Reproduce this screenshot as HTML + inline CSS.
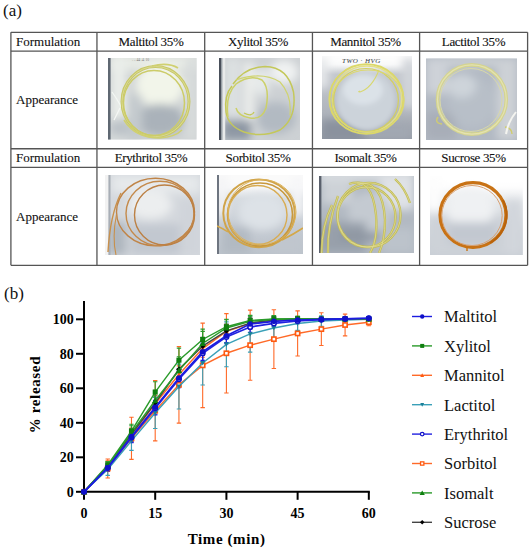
<!DOCTYPE html>
<html><head><meta charset="utf-8">
<style>
html,body{margin:0;padding:0;background:#fff;}
body{width:531px;height:550px;position:relative;overflow:hidden;font-family:"Liberation Serif",serif;color:#111;}
.lbl{position:absolute;font-size:17px;line-height:1;}
.hl{position:absolute;background:#5a5a5a;height:1px;}
.vl{position:absolute;background:#5a5a5a;width:1px;}
.cell{position:absolute;font-size:13px;line-height:1;white-space:nowrap;-webkit-text-stroke:0.12px #111;}
.c{text-align:center;letter-spacing:-0.35px;}
svg text{font-family:"Liberation Serif",serif;}
.tk{font-size:14px;font-weight:bold;fill:#000;}
.lg{font-size:16.5px;fill:#111;}
.ax{font-size:15px;font-weight:bold;fill:#000;}
</style></head><body>
<div class="lbl" style="left:3px;top:2.1px;">(a)</div>
<div class="lbl" style="left:4px;top:284.5px;">(b)</div>
<!-- table lines -->
<svg width="531" height="550" style="position:absolute;left:0;top:0;">
<g stroke="#555" stroke-width="1.3" fill="none">
<path d="M10.9,32.3H527.6M10.9,51.1H527.6M10.9,148.75H527.6M10.9,167.45H527.6M10.9,265.3H527.6"/>
<path d="M10.9,32.3V265.3M96.95,32.3V265.3M204.7,32.3V265.3M312.45,32.3V265.3M419.6,32.3V265.3M527.6,32.3V265.3"/>
</g>
</svg>
<!-- cell text -->
<div class="cell" style="left:16px;top:34.7px;">Formulation</div>
<div class="cell" style="left:16px;top:93.3px;">Appearance</div>
<div class="cell" style="left:16px;top:151.2px;">Formulation</div>
<div class="cell" style="left:16px;top:210px;">Appearance</div>
<div class="cell c" style="left:97px;width:108px;top:34.7px;">Maltitol 35%</div>
<div class="cell c" style="left:204px;width:108px;top:34.7px;">Xylitol 35%</div>
<div class="cell c" style="left:312px;width:107px;top:34.7px;">Mannitol 35%</div>
<div class="cell c" style="left:419px;width:109px;top:34.7px;">Lactitol 35%</div>
<div class="cell c" style="left:97px;width:108px;top:151.2px;">Erythritol 35%</div>
<div class="cell c" style="left:204px;width:108px;top:151.2px;">Sorbitol 35%</div>
<div class="cell c" style="left:312px;width:107px;top:151.2px;">Isomalt 35%</div>
<div class="cell c" style="left:419px;width:109px;top:151.2px;">Sucrose 35%</div>
<svg width="531" height="550" viewBox="0 0 531 550" style="position:absolute;left:0;top:0;">
<defs>
<filter id="b1" x="-30%" y="-30%" width="160%" height="160%"><feGaussianBlur stdDeviation="2.5"/></filter>
<filter id="b3" x="-30%" y="-30%" width="160%" height="160%"><feGaussianBlur stdDeviation="4.5"/></filter>
<filter id="b05" x="-5%" y="-5%" width="110%" height="110%"><feGaussianBlur stdDeviation="0.45"/></filter>
<filter id="b08" x="-5%" y="-5%" width="110%" height="110%"><feGaussianBlur stdDeviation="0.8"/></filter>
<clipPath id="c1"><rect x="108" y="58" width="88.5" height="81.5"/></clipPath>
<clipPath id="c2"><rect x="219" y="58" width="81" height="82"/></clipPath>
<clipPath id="c3"><rect x="322" y="56" width="90" height="83"/></clipPath>
<clipPath id="c4"><rect x="426" y="58.5" width="91" height="81.5"/></clipPath>
<clipPath id="c5"><rect x="105" y="175" width="95" height="80"/></clipPath>
<clipPath id="c6"><rect x="217" y="175" width="86" height="79"/></clipPath>
<clipPath id="c7"><rect x="319" y="176" width="95" height="77"/></clipPath>
<clipPath id="c8"><rect x="430" y="176" width="92.8" height="79"/></clipPath>
<linearGradient id="g6" x1="0" y1="175" x2="0" y2="254" gradientUnits="userSpaceOnUse">
<stop offset="0" stop-color="#fbfbfb"/><stop offset="0.16" stop-color="#f6f7f8"/><stop offset="0.3" stop-color="#d6dbe0"/><stop offset="0.7" stop-color="#c4cad2"/><stop offset="1" stop-color="#bcc3cb"/></linearGradient>
<linearGradient id="g8" x1="0" y1="176" x2="0" y2="254" gradientUnits="userSpaceOnUse">
<stop offset="0" stop-color="#ffffff"/><stop offset="0.14" stop-color="#fbfbfc"/><stop offset="0.35" stop-color="#e4e7ea"/><stop offset="0.7" stop-color="#d0d5db"/><stop offset="1" stop-color="#c8ced5"/></linearGradient>
<linearGradient id="g3" x1="0" y1="56" x2="0" y2="139" gradientUnits="userSpaceOnUse">
<stop offset="0" stop-color="#fdfdfd"/><stop offset="0.1" stop-color="#f4f5f6"/><stop offset="0.22" stop-color="#c4c8ce"/><stop offset="0.7" stop-color="#aeb3bb"/><stop offset="1" stop-color="#969ca6"/></linearGradient>
</defs>
<!-- Photo 1 Maltitol -->
<g clip-path="url(#c1)">
<rect x="108" y="58" width="89" height="82" fill="#d0d4d5"/>
<rect x="112" y="56" width="85" height="14" fill="#e8ece6" filter="url(#b3)"/>
<g filter="url(#b3)">
<rect x="112" y="58" width="14" height="82" fill="#eaeeea"/>
<ellipse cx="160" cy="85" rx="24" ry="22" fill="#f2f5ea"/>
<ellipse cx="160" cy="120" rx="24" ry="16" fill="#aab2ba"/>
<rect x="128" y="95" width="14" height="45" fill="#c4cace"/>
<rect x="186" y="58" width="11" height="82" fill="#d8dcdc"/>
<ellipse cx="120" cy="128" rx="10" ry="10" fill="#bcc2c8"/>
</g>
<rect x="108" y="58" width="2.6" height="82" fill="#5e6872" filter="url(#b05)"/>
<path d="M112,92 Q118,100 125,114 M114,120 L120,108" stroke="#f4f8f4" stroke-width="1.2" fill="none" filter="url(#b05)"/>
<text x="132" y="61" font-size="3.6" fill="#777" font-family="Liberation Sans">. .. 44 .4. 10</text>
<g fill="none" filter="url(#b05)">
<ellipse cx="155.5" cy="101.5" rx="33.5" ry="35" stroke="#c8c868" stroke-width="3"/>
<ellipse cx="155.5" cy="101.5" rx="33.5" ry="35" stroke="#dcdc96" stroke-width="0.9"/>
<ellipse cx="154" cy="103" rx="30.5" ry="32.5" stroke="#cccc68" stroke-width="1.5"/>
<path d="M152,66 Q168,62 178,68" stroke="#d0d070" stroke-width="1.8"/>
<path d="M124,120 Q135,138 160,138 Q175,137 182,130" stroke="#d0d070" stroke-width="1.6"/>
</g>
</g>
<!-- Photo 2 Xylitol -->
<g clip-path="url(#c2)">
<rect x="219" y="58" width="81" height="82" fill="#cdd1d4"/>
<g filter="url(#b3)">
<rect x="226" y="58" width="14" height="60" fill="#dde1e2"/>
<rect x="244" y="62" width="10" height="78" fill="#eceeec"/>
<ellipse cx="284" cy="72" rx="14" ry="12" fill="#f0f2f2"/>
<ellipse cx="276" cy="118" rx="20" ry="16" fill="#b2bac2"/>
<rect x="222" y="120" width="30" height="20" fill="#8e98a4"/>
<ellipse cx="262" cy="82" rx="8" ry="14" fill="#e6eaea"/>
</g>
<rect x="219" y="58" width="2" height="82" fill="#48505a" filter="url(#b05)"/>
<rect x="221" y="58" width="1.6" height="82" fill="#98a0a6" filter="url(#b05)"/>
<rect x="222.6" y="58" width="2.6" height="82" fill="#e8eaea" filter="url(#b05)"/>
<g fill="none" stroke="#c4c85a" stroke-width="1.5" filter="url(#b05)">
<path d="M233,84 Q245,67 265,66.5 Q288,67 293.5,92 Q297,118 280,130 Q262,138 244,132 Q228,126 226,112"/>
<path d="M228,117 Q225,95 236,84 Q250,74 262,80 Q270,88 266,108 Q262,120 250,118 Q238,116 236,108" stroke="#ccd068"/>
<path d="M226,112 Q224,95 232,86" stroke="#c4c858"/>
<path d="M236,80 Q262,71 280,82 Q292,95 290,115" stroke="#d0d470" stroke-width="1.2"/>
<path d="M244,113 Q252,117 254,112" stroke-width="1.3"/>
</g>
</g>
<!-- Photo 3 Mannitol -->
<g clip-path="url(#c3)">
<rect x="322" y="56" width="90" height="83" fill="url(#g3)"/>
<g filter="url(#b3)">
<rect x="316" y="48" width="102" height="16" fill="#fdfdfd"/>
<rect x="316" y="58" width="12" height="30" fill="#e6e8ea"/>
<rect x="402" y="58" width="14" height="50" fill="#d2d5da"/>
<rect x="322" y="120" width="40" height="22" fill="#8a929e"/>
<rect x="368" y="126" width="44" height="14" fill="#a2a8b2"/>
</g>
<g filter="url(#b1)">
<ellipse cx="366" cy="101" rx="30" ry="30" fill="#ccd3da"/>
<ellipse cx="363" cy="90" rx="20" ry="15" fill="#dbe2e8"/>
</g>
<text x="342" y="62.5" font-size="7" fill="#33373c" font-family="Liberation Sans" font-style="italic" letter-spacing="0.5">TWO    ·   HVG</text>
<g fill="none" filter="url(#b05)">
<ellipse cx="366.4" cy="99" rx="37" ry="34.8" stroke="#dcd868" stroke-width="2"/>
<ellipse cx="367" cy="99" rx="34.6" ry="33" stroke="#e4e088" stroke-width="1.4"/>
<ellipse cx="366" cy="100" rx="32.4" ry="31.5" stroke="#d4d060" stroke-width="1.2"/>
<ellipse cx="368" cy="101" rx="36" ry="31" stroke="#dcd870" stroke-width="1.2"/>
<path d="M379,70 Q372,88 360,92 Q357,92 360,91" stroke="#d8d870" stroke-width="1.1"/>
</g>
</g>
<!-- Photo 4 Lactitol -->
<g clip-path="url(#c4)">
<rect x="426" y="58" width="91" height="82" fill="#b2b9c3"/>
<g filter="url(#b3)">
<rect x="426" y="58" width="91" height="8" fill="#d0d4d8"/>
<rect x="426" y="58" width="22" height="36" fill="#ced2d8"/>
<rect x="497" y="58" width="20" height="82" fill="#cdd1d6"/>
<rect x="426" y="112" width="30" height="28" fill="#a8aeb8"/>
<ellipse cx="472" cy="102" rx="24" ry="26" fill="#b8bfc8"/>
<ellipse cx="462" cy="86" rx="14" ry="12" fill="#ced4da"/>
</g>
<g fill="none" filter="url(#b05)">
<ellipse cx="471.9" cy="99.5" rx="34.4" ry="34.6" stroke="#d4d490" stroke-width="3.6"/>
<ellipse cx="471.9" cy="99.5" rx="34.4" ry="34.6" stroke="#e4e2b0" stroke-width="1.2"/>
<ellipse cx="471" cy="100" rx="31" ry="31.5" stroke="#d8d8a8" stroke-width="1"/>
<path d="M438,117 Q434,123 442,124" stroke="#d0cc70" stroke-width="1.4"/>
<path d="M505,127 Q512,128 512,134" stroke="#d0cc70" stroke-width="1.4"/>
<path d="M516,112 Q508,122 506,134" stroke="#f4f4f0" stroke-width="2"/>
</g>
</g>
<!-- Photo 5 Erythritol -->
<g clip-path="url(#c5)">
<rect x="105" y="175" width="95" height="80" fill="#d4d8dd"/>
<g filter="url(#b3)">
<rect x="112" y="175" width="88" height="18" fill="#e6e9eb"/>
<ellipse cx="150" cy="205" rx="22" ry="14" fill="#eceeef"/>
<rect x="130" y="224" width="50" height="31" fill="#c2c8d0"/>
<rect x="108" y="222" width="18" height="33" fill="#aeb6be"/>
<rect x="180" y="200" width="20" height="55" fill="#d0d4da"/>
</g>
<rect x="105" y="175" width="3.5" height="80" fill="#f2f2f2" filter="url(#b05)"/>
<rect x="108.5" y="175" width="2" height="80" fill="#a8aeb6" filter="url(#b05)"/>
<g fill="none" filter="url(#b05)" stroke-width="1.4">
<ellipse cx="155.5" cy="212" rx="39" ry="33.8" stroke="#c08446"/>
<ellipse cx="160" cy="213.5" rx="34" ry="32.3" stroke="#c48a4c"/>
<ellipse cx="164.5" cy="215" rx="30" ry="30" stroke="#bc8044"/>
<path d="M121,193 Q110,215 108,252" stroke="#c8904c"/>
<path d="M116.5,214 Q112,238 116,255" stroke="#c8904c" stroke-width="1.1"/>
</g>
</g>
<!-- Photo 6 Sorbitol -->
<g clip-path="url(#c6)">
<rect x="217" y="175" width="86" height="79" fill="url(#g6)"/>
<g filter="url(#b3)">
<rect x="217" y="168" width="92" height="14" fill="#fafafa"/>
<rect x="217" y="175" width="10" height="40" fill="#f4f4f6"/>
<rect x="292" y="175" width="11" height="40" fill="#f6f6f8"/>
<ellipse cx="262" cy="212" rx="24" ry="18" fill="#dde2e7"/>
<rect x="222" y="228" width="28" height="26" fill="#b2bac2"/>
<rect x="270" y="236" width="33" height="18" fill="#c0c6ce"/>
</g>
<rect x="217" y="175" width="2" height="79" fill="#6e7480" filter="url(#b05)"/>
<g fill="none" filter="url(#b05)">
<ellipse cx="259" cy="213.3" rx="35.7" ry="33.9" stroke="#d0a44a" stroke-width="2"/>
<ellipse cx="260" cy="214.5" rx="32.5" ry="31.5" stroke="#c8983c" stroke-width="1.6"/>
<ellipse cx="257.5" cy="215" rx="29.5" ry="29.5" stroke="#d8ac52" stroke-width="1.4"/>
<ellipse cx="262" cy="212" rx="34" ry="32.5" stroke="#dcb25a" stroke-width="1"/>
<path d="M282,240 Q294,234 303,228" stroke="#d4a848" stroke-width="1.6"/>
<path d="M228,232 Q222,228 217,226" stroke="#d4a848" stroke-width="1.4"/>
</g>
</g>
<!-- Photo 7 Isomalt -->
<g clip-path="url(#c7)">
<rect x="319" y="176" width="95" height="77" fill="#b2b9c2"/>
<g filter="url(#b3)">
<rect x="319" y="170" width="95" height="12" fill="#d8dce0"/>
<rect x="380" y="176" width="34" height="34" fill="#dfe2e6"/>
<rect x="322" y="180" width="30" height="24" fill="#cdd2d7"/>
<ellipse cx="370" cy="212" rx="22" ry="20" fill="#c4cad1"/>
<rect x="320" y="222" width="46" height="31" fill="#98a0ab"/>
<rect x="340" y="232" width="40" height="8" fill="#8c94a0"/>
<rect x="382" y="228" width="32" height="25" fill="#bcc3cb"/>
</g>
<rect x="319" y="176" width="2.4" height="77" fill="#5a606c" filter="url(#b05)"/>
<g fill="none" filter="url(#b05)" stroke="#c2bc56" stroke-width="2.3">
<ellipse cx="369" cy="215" rx="31.6" ry="32.2"/>
<ellipse cx="366.5" cy="217" rx="29" ry="30"/>
<path d="M349,184 Q372,176 376,215 Q378,240 370,253"/>
<path d="M357,183 Q383,180 385,220 Q385,240 379,253"/>
<path d="M332,205 Q322,225 321.5,253"/>
<path d="M338,196 Q327,225 328,253"/>
<path d="M395,179 Q405,188 410,203"/>
</g>
<g fill="none" filter="url(#b05)" stroke="#e2de9c" stroke-width="0.7">
<ellipse cx="369" cy="215" rx="31.6" ry="32.2"/>
<ellipse cx="366.5" cy="217" rx="29" ry="30"/>
<path d="M349,184 Q372,176 376,215 Q378,240 370,253"/>
<path d="M357,183 Q383,180 385,220 Q385,240 379,253"/>
<path d="M332,205 Q322,225 321.5,253"/>
<path d="M338,196 Q327,225 328,253"/>
<path d="M395,179 Q405,188 410,203"/>
</g>
</g>
<!-- Photo 8 Sucrose -->
<g clip-path="url(#c8)">
<rect x="430" y="176" width="93" height="79" fill="url(#g8)"/>
<g filter="url(#b3)">
<rect x="426" y="168" width="100" height="18" fill="#ffffff"/>
<rect x="426" y="176" width="16" height="35" fill="#fdfdfd"/>
<rect x="430" y="216" width="92" height="40" fill="#cdd2d8"/>
<rect x="505" y="200" width="17" height="54" fill="#d2d6dc"/>
<ellipse cx="470" cy="208" rx="24" ry="22" fill="#eff1f3"/>
<rect x="448" y="222" width="48" height="22" fill="#c2c8d0"/>
</g>
<g fill="none" filter="url(#b05)">
<ellipse cx="473" cy="215" rx="33" ry="32.4" stroke="#c87212" stroke-width="3.2"/>
<path d="M503,200 A33,32.4 0 0 1 490,243" stroke="#b8620a" stroke-width="2"/>
<ellipse cx="472" cy="215.5" rx="30.2" ry="30" stroke="#d8a070" stroke-width="1"/>
<path d="M467,247 L467,251" stroke="#c87212" stroke-width="1.4"/>
</g>
</g>

<path d="M84.00,301V492.70M83.00,491.80H369.82" stroke="#000" stroke-width="2" fill="none"/>
<path d="M76.00,491.80H84.0" stroke="#000" stroke-width="2"/>
<text x="73.80" y="496.80" text-anchor="end" class="tk">0</text>
<path d="M76.00,457.30H84.0" stroke="#000" stroke-width="2"/>
<text x="73.80" y="462.30" text-anchor="end" class="tk">20</text>
<path d="M76.00,422.80H84.0" stroke="#000" stroke-width="2"/>
<text x="73.80" y="427.80" text-anchor="end" class="tk">40</text>
<path d="M76.00,388.30H84.0" stroke="#000" stroke-width="2"/>
<text x="73.80" y="393.30" text-anchor="end" class="tk">60</text>
<path d="M76.00,353.80H84.0" stroke="#000" stroke-width="2"/>
<text x="73.80" y="358.80" text-anchor="end" class="tk">80</text>
<path d="M76.00,319.30H84.0" stroke="#000" stroke-width="2"/>
<text x="73.80" y="324.30" text-anchor="end" class="tk">100</text>
<path d="M84.00,491.8V499.8" stroke="#000" stroke-width="2"/>
<text x="84.00" y="517.70" text-anchor="middle" class="tk">0</text>
<path d="M155.20,491.8V499.8" stroke="#000" stroke-width="2"/>
<text x="155.20" y="517.70" text-anchor="middle" class="tk">15</text>
<path d="M226.41,491.8V499.8" stroke="#000" stroke-width="2"/>
<text x="226.41" y="517.70" text-anchor="middle" class="tk">30</text>
<path d="M297.62,491.8V499.8" stroke="#000" stroke-width="2"/>
<text x="297.62" y="517.70" text-anchor="middle" class="tk">45</text>
<path d="M368.82,491.8V499.8" stroke="#000" stroke-width="2"/>
<text x="368.82" y="517.70" text-anchor="middle" class="tk">60</text>
<path d="M107.73,459.03V478.00M105.53,459.03h4.4M105.53,478.00h4.4" stroke="#ff6a28" stroke-width="1.1" fill="none"/>
<path d="M131.47,417.28V459.37M129.27,417.28h4.4M129.27,459.37h4.4" stroke="#ff6a28" stroke-width="1.1" fill="none"/>
<path d="M155.20,380.54V440.91M153.00,380.54h4.4M153.00,440.91h4.4" stroke="#ff6a28" stroke-width="1.1" fill="none"/>
<path d="M178.94,346.56V423.14M176.74,346.56h4.4M176.74,423.14h4.4" stroke="#ff6a28" stroke-width="1.1" fill="none"/>
<path d="M202.68,323.10V407.62M200.48,323.10h4.4M200.48,407.62h4.4" stroke="#ff6a28" stroke-width="1.1" fill="none"/>
<path d="M226.41,313.61V392.96M224.21,313.61h4.4M224.21,392.96h4.4" stroke="#ff6a28" stroke-width="1.1" fill="none"/>
<path d="M250.14,310.16V380.19M247.94,310.16h4.4M247.94,380.19h4.4" stroke="#ff6a28" stroke-width="1.1" fill="none"/>
<path d="M273.88,309.81V368.46M271.68,309.81h4.4M271.68,368.46h4.4" stroke="#ff6a28" stroke-width="1.1" fill="none"/>
<path d="M297.62,310.85V356.04M295.42,310.85h4.4M295.42,356.04h4.4" stroke="#ff6a28" stroke-width="1.1" fill="none"/>
<path d="M321.35,312.75V345.52M319.15,312.75h4.4M319.15,345.52h4.4" stroke="#ff6a28" stroke-width="1.1" fill="none"/>
<path d="M345.08,314.12V335.86M342.88,314.12h4.4M342.88,335.86h4.4" stroke="#ff6a28" stroke-width="1.1" fill="none"/>
<path d="M368.82,318.78V325.68M366.62,318.78h4.4M366.62,325.68h4.4" stroke="#ff6a28" stroke-width="1.1" fill="none"/>
<path d="M107.73,463.34V475.41M105.53,463.34h4.4M105.53,475.41h4.4" stroke="#3aa0b8" stroke-width="1.1" fill="none"/>
<path d="M131.47,431.43V450.40M129.27,431.43h4.4M129.27,450.40h4.4" stroke="#3aa0b8" stroke-width="1.1" fill="none"/>
<path d="M155.20,397.44V428.49M153.00,397.44h4.4M153.00,428.49h4.4" stroke="#3aa0b8" stroke-width="1.1" fill="none"/>
<path d="M178.94,364.15V409.00M176.74,364.15h4.4M176.74,409.00h4.4" stroke="#3aa0b8" stroke-width="1.1" fill="none"/>
<path d="M202.68,340.86V385.02M200.48,340.86h4.4M200.48,385.02h4.4" stroke="#3aa0b8" stroke-width="1.1" fill="none"/>
<path d="M226.41,321.89V366.74M224.21,321.89h4.4M224.21,366.74h4.4" stroke="#3aa0b8" stroke-width="1.1" fill="none"/>
<path d="M250.14,315.85V352.08M247.94,315.85h4.4M247.94,352.08h4.4" stroke="#3aa0b8" stroke-width="1.1" fill="none"/>
<path d="M273.88,315.85V340.00M271.68,315.85h4.4M271.68,340.00h4.4" stroke="#3aa0b8" stroke-width="1.1" fill="none"/>
<path d="M297.62,316.54V330.34M295.42,316.54h4.4M295.42,330.34h4.4" stroke="#3aa0b8" stroke-width="1.1" fill="none"/>
<path d="M321.35,315.85V326.20M319.15,315.85h4.4M319.15,326.20h4.4" stroke="#3aa0b8" stroke-width="1.1" fill="none"/>
<path d="M345.08,316.54V323.44M342.88,316.54h4.4M342.88,323.44h4.4" stroke="#3aa0b8" stroke-width="1.1" fill="none"/>
<path d="M368.82,317.57V321.02M366.62,317.57h4.4M366.62,321.02h4.4" stroke="#3aa0b8" stroke-width="1.1" fill="none"/>
<path d="M107.73,460.75V471.10M105.53,460.75h4.4M105.53,471.10h4.4" stroke="#ff6a28" stroke-width="1.1" fill="none"/>
<path d="M131.47,427.98V441.77M129.27,427.98h4.4M129.27,441.77h4.4" stroke="#ff6a28" stroke-width="1.1" fill="none"/>
<path d="M155.20,395.20V412.45M153.00,395.20h4.4M153.00,412.45h4.4" stroke="#ff6a28" stroke-width="1.1" fill="none"/>
<path d="M178.94,365.88V383.12M176.74,365.88h4.4M176.74,383.12h4.4" stroke="#ff6a28" stroke-width="1.1" fill="none"/>
<path d="M202.68,340.00V357.25M200.48,340.00h4.4M200.48,357.25h4.4" stroke="#ff6a28" stroke-width="1.1" fill="none"/>
<path d="M226.41,324.48V338.27M224.21,324.48h4.4M224.21,338.27h4.4" stroke="#ff6a28" stroke-width="1.1" fill="none"/>
<path d="M250.14,318.44V328.79M247.94,318.44h4.4M247.94,328.79h4.4" stroke="#ff6a28" stroke-width="1.1" fill="none"/>
<path d="M273.88,316.71V323.61M271.68,316.71h4.4M271.68,323.61h4.4" stroke="#ff6a28" stroke-width="1.1" fill="none"/>
<path d="M297.62,316.71V321.89M295.42,316.71h4.4M295.42,321.89h4.4" stroke="#ff6a28" stroke-width="1.1" fill="none"/>
<path d="M321.35,317.57V321.02M319.15,317.57h4.4M319.15,321.02h4.4" stroke="#ff6a28" stroke-width="1.1" fill="none"/>
<path d="M345.08,317.23V320.68M342.88,317.23h4.4M342.88,320.68h4.4" stroke="#ff6a28" stroke-width="1.1" fill="none"/>
<path d="M368.82,317.23V320.68M366.62,317.23h4.4M366.62,320.68h4.4" stroke="#ff6a28" stroke-width="1.1" fill="none"/>
<path d="M107.73,462.82V469.72M105.53,462.82h4.4M105.53,469.72h4.4" stroke="#444444" stroke-width="1.1" fill="none"/>
<path d="M131.47,428.84V439.19M129.27,428.84h4.4M129.27,439.19h4.4" stroke="#444444" stroke-width="1.1" fill="none"/>
<path d="M155.20,396.06V409.86M153.00,396.06h4.4M153.00,409.86h4.4" stroke="#444444" stroke-width="1.1" fill="none"/>
<path d="M178.94,360.70V377.95M176.74,360.70h4.4M176.74,377.95h4.4" stroke="#444444" stroke-width="1.1" fill="none"/>
<path d="M202.68,337.41V354.66M200.48,337.41h4.4M200.48,354.66h4.4" stroke="#444444" stroke-width="1.1" fill="none"/>
<path d="M226.41,323.96V337.76M224.21,323.96h4.4M224.21,337.76h4.4" stroke="#444444" stroke-width="1.1" fill="none"/>
<path d="M250.14,317.92V328.27M247.94,317.92h4.4M247.94,328.27h4.4" stroke="#444444" stroke-width="1.1" fill="none"/>
<path d="M273.88,316.54V323.44M271.68,316.54h4.4M271.68,323.44h4.4" stroke="#444444" stroke-width="1.1" fill="none"/>
<path d="M297.62,316.71V321.89M295.42,316.71h4.4M295.42,321.89h4.4" stroke="#444444" stroke-width="1.1" fill="none"/>
<path d="M321.35,317.40V320.85M319.15,317.40h4.4M319.15,320.85h4.4" stroke="#444444" stroke-width="1.1" fill="none"/>
<path d="M345.08,317.23V320.68M342.88,317.23h4.4M342.88,320.68h4.4" stroke="#444444" stroke-width="1.1" fill="none"/>
<path d="M368.82,317.06V320.51M366.62,317.06h4.4M366.62,320.51h4.4" stroke="#444444" stroke-width="1.1" fill="none"/>
<path d="M107.73,461.61V470.24M105.53,461.61h4.4M105.53,470.24h4.4" stroke="#2a9a2a" stroke-width="1.1" fill="none"/>
<path d="M131.47,425.73V439.53M129.27,425.73h4.4M129.27,439.53h4.4" stroke="#2a9a2a" stroke-width="1.1" fill="none"/>
<path d="M155.20,390.20V410.90M153.00,390.20h4.4M153.00,410.90h4.4" stroke="#2a9a2a" stroke-width="1.1" fill="none"/>
<path d="M178.94,356.73V384.33M176.74,356.73h4.4M176.74,384.33h4.4" stroke="#2a9a2a" stroke-width="1.1" fill="none"/>
<path d="M202.68,331.38V355.52M200.48,331.38h4.4M200.48,355.52h4.4" stroke="#2a9a2a" stroke-width="1.1" fill="none"/>
<path d="M226.41,319.30V336.55M224.21,319.30h4.4M224.21,336.55h4.4" stroke="#2a9a2a" stroke-width="1.1" fill="none"/>
<path d="M250.14,316.19V326.55M247.94,316.19h4.4M247.94,326.55h4.4" stroke="#2a9a2a" stroke-width="1.1" fill="none"/>
<path d="M273.88,315.85V322.75M271.68,315.85h4.4M271.68,322.75h4.4" stroke="#2a9a2a" stroke-width="1.1" fill="none"/>
<path d="M297.62,316.37V321.54M295.42,316.37h4.4M295.42,321.54h4.4" stroke="#2a9a2a" stroke-width="1.1" fill="none"/>
<path d="M321.35,317.23V320.68M319.15,317.23h4.4M319.15,320.68h4.4" stroke="#2a9a2a" stroke-width="1.1" fill="none"/>
<path d="M345.08,317.23V320.68M342.88,317.23h4.4M342.88,320.68h4.4" stroke="#2a9a2a" stroke-width="1.1" fill="none"/>
<path d="M368.82,317.23V320.68M366.62,317.23h4.4M366.62,320.68h4.4" stroke="#2a9a2a" stroke-width="1.1" fill="none"/>
<path d="M107.73,461.44V468.34M105.53,461.44h4.4M105.53,468.34h4.4" stroke="#2a9a2a" stroke-width="1.1" fill="none"/>
<path d="M131.47,424.18V437.98M129.27,424.18h4.4M129.27,437.98h4.4" stroke="#2a9a2a" stroke-width="1.1" fill="none"/>
<path d="M155.20,381.75V402.44M153.00,381.75h4.4M153.00,402.44h4.4" stroke="#2a9a2a" stroke-width="1.1" fill="none"/>
<path d="M178.94,348.11V372.26M176.74,348.11h4.4M176.74,372.26h4.4" stroke="#2a9a2a" stroke-width="1.1" fill="none"/>
<path d="M202.68,329.13V349.83M200.48,329.13h4.4M200.48,349.83h4.4" stroke="#2a9a2a" stroke-width="1.1" fill="none"/>
<path d="M226.41,319.82V333.62M224.21,319.82h4.4M224.21,333.62h4.4" stroke="#2a9a2a" stroke-width="1.1" fill="none"/>
<path d="M250.14,315.33V325.68M247.94,315.33h4.4M247.94,325.68h4.4" stroke="#2a9a2a" stroke-width="1.1" fill="none"/>
<path d="M273.88,315.50V322.40M271.68,315.50h4.4M271.68,322.40h4.4" stroke="#2a9a2a" stroke-width="1.1" fill="none"/>
<path d="M297.62,316.19V321.37M295.42,316.19h4.4M295.42,321.37h4.4" stroke="#2a9a2a" stroke-width="1.1" fill="none"/>
<path d="M321.35,317.23V320.68M319.15,317.23h4.4M319.15,320.68h4.4" stroke="#2a9a2a" stroke-width="1.1" fill="none"/>
<path d="M345.08,317.23V320.68M342.88,317.23h4.4M342.88,320.68h4.4" stroke="#2a9a2a" stroke-width="1.1" fill="none"/>
<path d="M368.82,317.23V320.68M366.62,317.23h4.4M366.62,320.68h4.4" stroke="#2a9a2a" stroke-width="1.1" fill="none"/>
<path d="M107.73,464.55V471.44M105.53,464.55h4.4M105.53,471.44h4.4" stroke="#2222e0" stroke-width="1.1" fill="none"/>
<path d="M131.47,432.29V442.64M129.27,432.29h4.4M129.27,442.64h4.4" stroke="#2222e0" stroke-width="1.1" fill="none"/>
<path d="M155.20,401.24V415.04M153.00,401.24h4.4M153.00,415.04h4.4" stroke="#2222e0" stroke-width="1.1" fill="none"/>
<path d="M178.94,370.53V387.78M176.74,370.53h4.4M176.74,387.78h4.4" stroke="#2222e0" stroke-width="1.1" fill="none"/>
<path d="M202.68,344.66V361.91M200.48,344.66h4.4M200.48,361.91h4.4" stroke="#2222e0" stroke-width="1.1" fill="none"/>
<path d="M226.41,330.00V343.80M224.21,330.00h4.4M224.21,343.80h4.4" stroke="#2222e0" stroke-width="1.1" fill="none"/>
<path d="M250.14,321.89V332.24M247.94,321.89h4.4M247.94,332.24h4.4" stroke="#2222e0" stroke-width="1.1" fill="none"/>
<path d="M273.88,319.99V326.89M271.68,319.99h4.4M271.68,326.89h4.4" stroke="#2222e0" stroke-width="1.1" fill="none"/>
<path d="M297.62,318.44V323.61M295.42,318.44h4.4M295.42,323.61h4.4" stroke="#2222e0" stroke-width="1.1" fill="none"/>
<path d="M321.35,317.92V321.37M319.15,317.92h4.4M319.15,321.37h4.4" stroke="#2222e0" stroke-width="1.1" fill="none"/>
<path d="M345.08,317.06V320.51M342.88,317.06h4.4M342.88,320.51h4.4" stroke="#2222e0" stroke-width="1.1" fill="none"/>
<path d="M368.82,316.54V319.99M366.62,316.54h4.4M366.62,319.99h4.4" stroke="#2222e0" stroke-width="1.1" fill="none"/>
<path d="M107.73,464.20V471.10M105.53,464.20h4.4M105.53,471.10h4.4" stroke="#1c1ce0" stroke-width="1.1" fill="none"/>
<path d="M131.47,431.43V441.77M129.27,431.43h4.4M129.27,441.77h4.4" stroke="#1c1ce0" stroke-width="1.1" fill="none"/>
<path d="M155.20,400.38V414.18M153.00,400.38h4.4M153.00,414.18h4.4" stroke="#1c1ce0" stroke-width="1.1" fill="none"/>
<path d="M178.94,369.32V386.57M176.74,369.32h4.4M176.74,386.57h4.4" stroke="#1c1ce0" stroke-width="1.1" fill="none"/>
<path d="M202.68,343.11V360.36M200.48,343.11h4.4M200.48,360.36h4.4" stroke="#1c1ce0" stroke-width="1.1" fill="none"/>
<path d="M226.41,328.79V342.59M224.21,328.79h4.4M224.21,342.59h4.4" stroke="#1c1ce0" stroke-width="1.1" fill="none"/>
<path d="M250.14,318.78V329.13M247.94,318.78h4.4M247.94,329.13h4.4" stroke="#1c1ce0" stroke-width="1.1" fill="none"/>
<path d="M273.88,317.92V324.82M271.68,317.92h4.4M271.68,324.82h4.4" stroke="#1c1ce0" stroke-width="1.1" fill="none"/>
<path d="M297.62,317.40V322.58M295.42,317.40h4.4M295.42,322.58h4.4" stroke="#1c1ce0" stroke-width="1.1" fill="none"/>
<path d="M321.35,317.57V321.02M319.15,317.57h4.4M319.15,321.02h4.4" stroke="#1c1ce0" stroke-width="1.1" fill="none"/>
<path d="M345.08,317.06V320.51M342.88,317.06h4.4M342.88,320.51h4.4" stroke="#1c1ce0" stroke-width="1.1" fill="none"/>
<path d="M368.82,316.54V319.99M366.62,316.54h4.4M366.62,319.99h4.4" stroke="#1c1ce0" stroke-width="1.1" fill="none"/>
<polyline points="84.00,491.80 107.73,468.51 131.47,438.32 155.20,410.73 178.94,384.85 202.68,365.36 226.41,353.28 250.14,345.18 273.88,339.14 297.62,333.45 321.35,329.13 345.08,324.99 368.82,322.23" stroke="#ff6a28" stroke-width="1.45" fill="none"/>
<rect x="81.90" y="489.70" width="4.20" height="4.20" fill="#fff" stroke="#ff5a10" stroke-width="1.62"/>
<rect x="105.64" y="466.41" width="4.20" height="4.20" fill="#fff" stroke="#ff5a10" stroke-width="1.62"/>
<rect x="129.37" y="436.22" width="4.20" height="4.20" fill="#fff" stroke="#ff5a10" stroke-width="1.62"/>
<rect x="153.10" y="408.62" width="4.20" height="4.20" fill="#fff" stroke="#ff5a10" stroke-width="1.62"/>
<rect x="176.84" y="382.75" width="4.20" height="4.20" fill="#fff" stroke="#ff5a10" stroke-width="1.62"/>
<rect x="200.58" y="363.26" width="4.20" height="4.20" fill="#fff" stroke="#ff5a10" stroke-width="1.62"/>
<rect x="224.31" y="351.18" width="4.20" height="4.20" fill="#fff" stroke="#ff5a10" stroke-width="1.62"/>
<rect x="248.04" y="343.07" width="4.20" height="4.20" fill="#fff" stroke="#ff5a10" stroke-width="1.62"/>
<rect x="271.78" y="337.04" width="4.20" height="4.20" fill="#fff" stroke="#ff5a10" stroke-width="1.62"/>
<rect x="295.51" y="331.35" width="4.20" height="4.20" fill="#fff" stroke="#ff5a10" stroke-width="1.62"/>
<rect x="319.25" y="327.03" width="4.20" height="4.20" fill="#fff" stroke="#ff5a10" stroke-width="1.62"/>
<rect x="342.98" y="322.89" width="4.20" height="4.20" fill="#fff" stroke="#ff5a10" stroke-width="1.62"/>
<rect x="366.72" y="320.13" width="4.20" height="4.20" fill="#fff" stroke="#ff5a10" stroke-width="1.62"/>
<polyline points="84.00,491.80 107.73,469.38 131.47,440.91 155.20,412.97 178.94,386.57 202.68,362.94 226.41,344.31 250.14,333.96 273.88,327.93 297.62,323.44 321.35,321.02 345.08,319.99 368.82,319.30" stroke="#3aa0b8" stroke-width="1.45" fill="none"/>
<path d="M84.00,494.25L86.45,489.76L81.55,489.76Z" fill="#1a7f98"/>
<path d="M107.73,471.82L110.18,467.33L105.29,467.33Z" fill="#1a7f98"/>
<path d="M131.47,443.36L133.92,438.87L129.02,438.87Z" fill="#1a7f98"/>
<path d="M155.20,415.42L157.65,410.93L152.76,410.93Z" fill="#1a7f98"/>
<path d="M178.94,389.02L181.39,384.53L176.49,384.53Z" fill="#1a7f98"/>
<path d="M202.68,365.39L205.12,360.90L200.23,360.90Z" fill="#1a7f98"/>
<path d="M226.41,346.76L228.86,342.27L223.96,342.27Z" fill="#1a7f98"/>
<path d="M250.14,336.41L252.59,331.92L247.70,331.92Z" fill="#1a7f98"/>
<path d="M273.88,330.37L276.33,325.88L271.43,325.88Z" fill="#1a7f98"/>
<path d="M297.62,325.89L300.06,321.40L295.17,321.40Z" fill="#1a7f98"/>
<path d="M321.35,323.47L323.80,318.98L318.90,318.98Z" fill="#1a7f98"/>
<path d="M345.08,322.44L347.53,317.95L342.64,317.95Z" fill="#1a7f98"/>
<path d="M368.82,321.75L371.27,317.26L366.37,317.26Z" fill="#1a7f98"/>
<polyline points="84.00,491.80 107.73,465.93 131.47,434.88 155.20,403.82 178.94,374.50 202.68,348.62 226.41,331.38 250.14,323.61 273.88,320.16 297.62,319.30 321.35,319.30 345.08,318.95 368.82,318.95" stroke="#ff6a28" stroke-width="1.45" fill="none"/>
<path d="M84.00,489.35L86.45,493.84L81.55,493.84Z" fill="#ff5a10"/>
<path d="M107.73,463.48L110.18,467.97L105.29,467.97Z" fill="#ff5a10"/>
<path d="M131.47,432.43L133.92,436.92L129.02,436.92Z" fill="#ff5a10"/>
<path d="M155.20,401.38L157.65,405.87L152.76,405.87Z" fill="#ff5a10"/>
<path d="M178.94,372.05L181.39,376.54L176.49,376.54Z" fill="#ff5a10"/>
<path d="M202.68,346.18L205.12,350.67L200.23,350.67Z" fill="#ff5a10"/>
<path d="M226.41,328.93L228.86,333.42L223.96,333.42Z" fill="#ff5a10"/>
<path d="M250.14,321.16L252.59,325.65L247.70,325.65Z" fill="#ff5a10"/>
<path d="M273.88,317.71L276.33,322.20L271.43,322.20Z" fill="#ff5a10"/>
<path d="M297.62,316.85L300.06,321.34L295.17,321.34Z" fill="#ff5a10"/>
<path d="M321.35,316.85L323.80,321.34L318.90,321.34Z" fill="#ff5a10"/>
<path d="M345.08,316.51L347.53,321.00L342.64,321.00Z" fill="#ff5a10"/>
<path d="M368.82,316.51L371.27,321.00L366.37,321.00Z" fill="#ff5a10"/>
<polyline points="84.00,491.80 107.73,466.27 131.47,434.01 155.20,402.96 178.94,369.32 202.68,346.04 226.41,330.86 250.14,323.10 273.88,319.99 297.62,319.30 321.35,319.13 345.08,318.95 368.82,318.78" stroke="#444444" stroke-width="1.45" fill="none"/>
<path d="M84.00,488.92L86.88,491.80L84.00,494.68L81.12,491.80Z" fill="#000000"/>
<path d="M107.73,463.39L110.61,466.27L107.73,469.15L104.86,466.27Z" fill="#000000"/>
<path d="M131.47,431.13L134.35,434.01L131.47,436.89L128.59,434.01Z" fill="#000000"/>
<path d="M155.20,400.08L158.08,402.96L155.20,405.84L152.32,402.96Z" fill="#000000"/>
<path d="M178.94,366.44L181.82,369.32L178.94,372.20L176.06,369.32Z" fill="#000000"/>
<path d="M202.68,343.16L205.56,346.04L202.68,348.92L199.80,346.04Z" fill="#000000"/>
<path d="M226.41,327.98L229.29,330.86L226.41,333.74L223.53,330.86Z" fill="#000000"/>
<path d="M250.14,320.22L253.02,323.10L250.14,325.98L247.26,323.10Z" fill="#000000"/>
<path d="M273.88,317.11L276.76,319.99L273.88,322.87L271.00,319.99Z" fill="#000000"/>
<path d="M297.62,316.42L300.50,319.30L297.62,322.18L294.74,319.30Z" fill="#000000"/>
<path d="M321.35,316.25L324.23,319.13L321.35,322.01L318.47,319.13Z" fill="#000000"/>
<path d="M345.08,316.07L347.96,318.95L345.08,321.83L342.20,318.95Z" fill="#000000"/>
<path d="M368.82,315.90L371.70,318.78L368.82,321.66L365.94,318.78Z" fill="#000000"/>
<polyline points="84.00,491.80 107.73,465.93 131.47,432.63 155.20,400.55 178.94,370.53 202.68,343.45 226.41,327.93 250.14,321.37 273.88,319.30 297.62,318.95 321.35,318.95 345.08,318.95 368.82,318.95" stroke="#2a9a2a" stroke-width="1.45" fill="none"/>
<path d="M84.00,488.63L87.30,494.44L80.70,494.44Z" fill="#0f7f0f"/>
<path d="M107.73,462.76L111.03,468.56L104.44,468.56Z" fill="#0f7f0f"/>
<path d="M131.47,429.46L134.77,435.27L128.17,435.27Z" fill="#0f7f0f"/>
<path d="M155.20,397.38L158.50,403.19L151.90,403.19Z" fill="#0f7f0f"/>
<path d="M178.94,367.36L182.24,373.17L175.64,373.17Z" fill="#0f7f0f"/>
<path d="M202.68,340.28L205.98,346.09L199.38,346.09Z" fill="#0f7f0f"/>
<path d="M226.41,324.76L229.71,330.56L223.11,330.56Z" fill="#0f7f0f"/>
<path d="M250.14,318.20L253.44,324.01L246.84,324.01Z" fill="#0f7f0f"/>
<path d="M273.88,316.13L277.18,321.94L270.58,321.94Z" fill="#0f7f0f"/>
<path d="M297.62,315.79L300.92,321.59L294.31,321.59Z" fill="#0f7f0f"/>
<path d="M321.35,315.79L324.65,321.59L318.05,321.59Z" fill="#0f7f0f"/>
<path d="M345.08,315.79L348.38,321.59L341.78,321.59Z" fill="#0f7f0f"/>
<path d="M368.82,315.79L372.12,321.59L365.52,321.59Z" fill="#0f7f0f"/>
<polyline points="84.00,491.80 107.73,464.89 131.47,431.08 155.20,392.10 178.94,360.18 202.68,339.48 226.41,326.72 250.14,320.51 273.88,318.95 297.62,318.78 321.35,318.95 345.08,318.95 368.82,318.95" stroke="#2a9a2a" stroke-width="1.45" fill="none"/>
<rect x="81.48" y="489.28" width="5.04" height="5.04" fill="#0f7f0f"/>
<rect x="105.22" y="462.37" width="5.04" height="5.04" fill="#0f7f0f"/>
<rect x="128.95" y="428.56" width="5.04" height="5.04" fill="#0f7f0f"/>
<rect x="152.68" y="389.58" width="5.04" height="5.04" fill="#0f7f0f"/>
<rect x="176.42" y="357.66" width="5.04" height="5.04" fill="#0f7f0f"/>
<rect x="200.16" y="336.96" width="5.04" height="5.04" fill="#0f7f0f"/>
<rect x="223.89" y="324.20" width="5.04" height="5.04" fill="#0f7f0f"/>
<rect x="247.62" y="317.99" width="5.04" height="5.04" fill="#0f7f0f"/>
<rect x="271.36" y="316.44" width="5.04" height="5.04" fill="#0f7f0f"/>
<rect x="295.10" y="316.26" width="5.04" height="5.04" fill="#0f7f0f"/>
<rect x="318.83" y="316.44" width="5.04" height="5.04" fill="#0f7f0f"/>
<rect x="342.56" y="316.44" width="5.04" height="5.04" fill="#0f7f0f"/>
<rect x="366.30" y="316.44" width="5.04" height="5.04" fill="#0f7f0f"/>
<polyline points="84.00,491.80 107.73,468.00 131.47,437.46 155.20,408.14 178.94,379.16 202.68,353.28 226.41,336.89 250.14,327.06 273.88,323.44 297.62,321.02 321.35,319.64 345.08,318.78 368.82,318.26" stroke="#2222e0" stroke-width="1.7" fill="none"/>
<circle cx="84.00" cy="491.80" r="2.28" fill="#fff" stroke="#1010c8" stroke-width="1.56"/>
<circle cx="107.73" cy="468.00" r="2.28" fill="#fff" stroke="#1010c8" stroke-width="1.56"/>
<circle cx="131.47" cy="437.46" r="2.28" fill="#fff" stroke="#1010c8" stroke-width="1.56"/>
<circle cx="155.20" cy="408.14" r="2.28" fill="#fff" stroke="#1010c8" stroke-width="1.56"/>
<circle cx="178.94" cy="379.16" r="2.28" fill="#fff" stroke="#1010c8" stroke-width="1.56"/>
<circle cx="202.68" cy="353.28" r="2.28" fill="#fff" stroke="#1010c8" stroke-width="1.56"/>
<circle cx="226.41" cy="336.89" r="2.28" fill="#fff" stroke="#1010c8" stroke-width="1.56"/>
<circle cx="250.14" cy="327.06" r="2.28" fill="#fff" stroke="#1010c8" stroke-width="1.56"/>
<circle cx="273.88" cy="323.44" r="2.28" fill="#fff" stroke="#1010c8" stroke-width="1.56"/>
<circle cx="297.62" cy="321.02" r="2.28" fill="#fff" stroke="#1010c8" stroke-width="1.56"/>
<circle cx="321.35" cy="319.64" r="2.28" fill="#fff" stroke="#1010c8" stroke-width="1.56"/>
<circle cx="345.08" cy="318.78" r="2.28" fill="#fff" stroke="#1010c8" stroke-width="1.56"/>
<circle cx="368.82" cy="318.26" r="2.28" fill="#fff" stroke="#1010c8" stroke-width="1.56"/>
<polyline points="84.00,491.80 107.73,467.65 131.47,436.60 155.20,407.27 178.94,377.95 202.68,351.73 226.41,335.69 250.14,323.96 273.88,321.37 297.62,319.99 321.35,319.30 345.08,318.78 368.82,318.26" stroke="#1c1ce0" stroke-width="1.7" fill="none"/>
<circle cx="84.00" cy="491.80" r="2.76" fill="#1010c8"/>
<circle cx="107.73" cy="467.65" r="2.76" fill="#1010c8"/>
<circle cx="131.47" cy="436.60" r="2.76" fill="#1010c8"/>
<circle cx="155.20" cy="407.27" r="2.76" fill="#1010c8"/>
<circle cx="178.94" cy="377.95" r="2.76" fill="#1010c8"/>
<circle cx="202.68" cy="351.73" r="2.76" fill="#1010c8"/>
<circle cx="226.41" cy="335.69" r="2.76" fill="#1010c8"/>
<circle cx="250.14" cy="323.96" r="2.76" fill="#1010c8"/>
<circle cx="273.88" cy="321.37" r="2.76" fill="#1010c8"/>
<circle cx="297.62" cy="319.99" r="2.76" fill="#1010c8"/>
<circle cx="321.35" cy="319.30" r="2.76" fill="#1010c8"/>
<circle cx="345.08" cy="318.78" r="2.76" fill="#1010c8"/>
<circle cx="368.82" cy="318.26" r="2.76" fill="#1010c8"/>
<path d="M412,316.50H432" stroke="#1c1ce0" stroke-width="1.4"/>
<circle cx="422.20" cy="316.50" r="2.18" fill="#1010c8"/>
<text x="444" y="322.30" class="lg">Maltitol</text>
<path d="M412,345.90H432" stroke="#2a9a2a" stroke-width="1.4"/>
<rect x="420.20" y="343.90" width="3.99" height="3.99" fill="#0f7f0f"/>
<text x="444" y="351.70" class="lg">Xylitol</text>
<path d="M412,375.30H432" stroke="#ff6a28" stroke-width="1.4"/>
<path d="M422.20,373.36L424.14,376.92L420.26,376.92Z" fill="#ff5a10"/>
<text x="444" y="381.10" class="lg">Mannitol</text>
<path d="M412,404.70H432" stroke="#3aa0b8" stroke-width="1.4"/>
<path d="M422.20,406.64L424.14,403.08L420.26,403.08Z" fill="#1a7f98"/>
<text x="444" y="410.50" class="lg">Lactitol</text>
<path d="M412,434.10H432" stroke="#2222e0" stroke-width="1.4"/>
<circle cx="422.20" cy="434.10" r="1.80" fill="#fff" stroke="#1010c8" stroke-width="1.23"/>
<text x="444" y="439.90" class="lg">Erythritol</text>
<path d="M412,463.50H432" stroke="#ff6a28" stroke-width="1.4"/>
<rect x="420.54" y="461.84" width="3.32" height="3.32" fill="#fff" stroke="#ff5a10" stroke-width="1.28"/>
<text x="444" y="469.30" class="lg">Sorbitol</text>
<path d="M412,492.90H432" stroke="#2a9a2a" stroke-width="1.4"/>
<path d="M422.20,490.39L424.81,494.99L419.59,494.99Z" fill="#0f7f0f"/>
<text x="444" y="498.70" class="lg">Isomalt</text>
<path d="M412,522.30H432" stroke="#444444" stroke-width="1.4"/>
<path d="M422.20,520.02L424.48,522.30L422.20,524.58L419.92,522.30Z" fill="#000000"/>
<text x="444" y="528.10" class="lg">Sucrose</text>
<text x="226.6" y="544.3" text-anchor="middle" class="ax" letter-spacing="0.6">Time (min)</text>
<text transform="translate(39.6,394.6) rotate(-90)" text-anchor="middle" class="ax" letter-spacing="0.65">% released</text>
</svg>
</body></html>
